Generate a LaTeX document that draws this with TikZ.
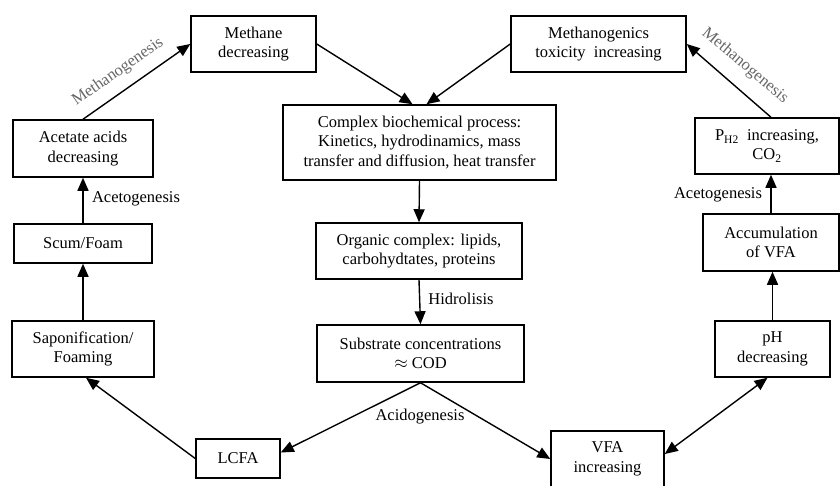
\documentclass[tikz,border=0pt]{standalone}
\usepackage{fontspec}
\setmainfont{Liberation Serif}
\usetikzlibrary{arrows.meta}
\begin{document}
\begin{tikzpicture}[x=1pt,y=-1pt,
  box/.style={draw, line width=1.5pt, align=center, inner sep=0pt, font=\fontsize{16.5}{19.5}\selectfont},
  arr/.style={line width=1.4pt, -{Triangle[length=13pt,width=11pt]}},
  darr/.style={line width=1.4pt, {Triangle[length=13pt,width=11pt]}-{Triangle[length=13pt,width=11pt]}},
  lbl/.style={font=\fontsize{16.5}{19.5}\selectfont, inner sep=1pt},
  glbl/.style={lbl, text=black!60}]
\useasboundingbox (0,0) rectangle (840,485);
\clip (0,0) rectangle (840,485);
% boxes
\node[box, minimum width=125pt, minimum height=56pt] (meth) at (253.5,44) {Methane\\decreasing};
\node[box, minimum width=175pt, minimum height=56pt] (tox) at (598.5,44) {Methanogenics\\toxicity\ \ increasing};
\node[box, minimum width=273pt, minimum height=75pt] (cplx) at (419.5,142.5) {Complex biochemical process:\\Kinetics, hydrodinamics, mass\\transfer and diffusion, heat transfer};
\node[box, minimum width=206pt, minimum height=56pt] (org) at (419,251) {Organic complex: lipids,\\carbohydtates, proteins};
\node[box, minimum width=207pt, minimum height=57pt] (sub) at (420.5,353.5) {Substrate concentrations\\$\approx$ COD};
\node[box, minimum width=140pt, minimum height=57pt] (acet) at (83,148.5) {Acetate acids\\decreasing};
\node[box, minimum width=138pt, minimum height=39pt] (scum) at (83,243.5) {Scum/Foam};
\node[box, minimum width=142pt, minimum height=56pt] (sapo) at (83,349) {Saponification/\\Foaming};
\node[box, minimum width=84pt, minimum height=39pt] (lcfa) at (238,458.5) {LCFA};
\node[box, minimum width=113pt, minimum height=56pt] (vfa) at (607.5,459) {VFA\\increasing};
\node[box, minimum width=115pt, minimum height=56pt] (ph) at (772.5,349) {pH\\decreasing};
\node[box, minimum width=136pt, minimum height=57pt] (accum) at (771,242.5) {Accumulation\\of VFA};
\node[box, minimum width=144pt, minimum height=56pt] (ph2) at (767,146) {P\textsubscript{H2}\ \ increasing,\\CO\textsubscript{2}};
% connectors
\draw[arr] (acet.north) -- (meth.west);
\draw[arr] (meth.east) -- ([xshift=-7pt]cplx.north);
\draw[arr] (tox.west) -- ([xshift=7pt]cplx.north);
\draw[arr] (cplx.south) -- (org.north);
\draw[arr] (org.south) -- (sub.north);
\draw[arr] (sub.south) -- ([yshift=6pt]lcfa.east);
\draw[arr] (sub.south) -- (vfa.west);
\draw[arr] (lcfa.west) -- ([xshift=3pt]sapo.south);
\draw[arr] (sapo.north) -- (scum.south);
\draw[arr] (scum.north) -- (acet.south);
\draw[darr] ([yshift=5pt]vfa.east) -- ([xshift=-5pt]ph.south);
\draw[arr] (ph.north) -- (ph.north |- accum.south);
\draw[arr] (accum.north) -- (accum.north |- ph2.south);
\draw[arr] (accum.north |- ph2.north) -- (tox.east);
% labels
\node[glbl, rotate=35] (lm1) at (118,72) {Methanogenesis};
\node[glbl, rotate=-40] (lm2) at (745,66) {Methanogenesis};
\node[lbl] (la1) at (136,199) {Acetogenesis};
\node[lbl] (la2) at (718,195) {Acetogenesis};
\node[lbl] (lh) at (461,299) {Hidrolisis};
\node[lbl] (lac) at (420,417) {Acidogenesis};
\end{tikzpicture}
\end{document}
